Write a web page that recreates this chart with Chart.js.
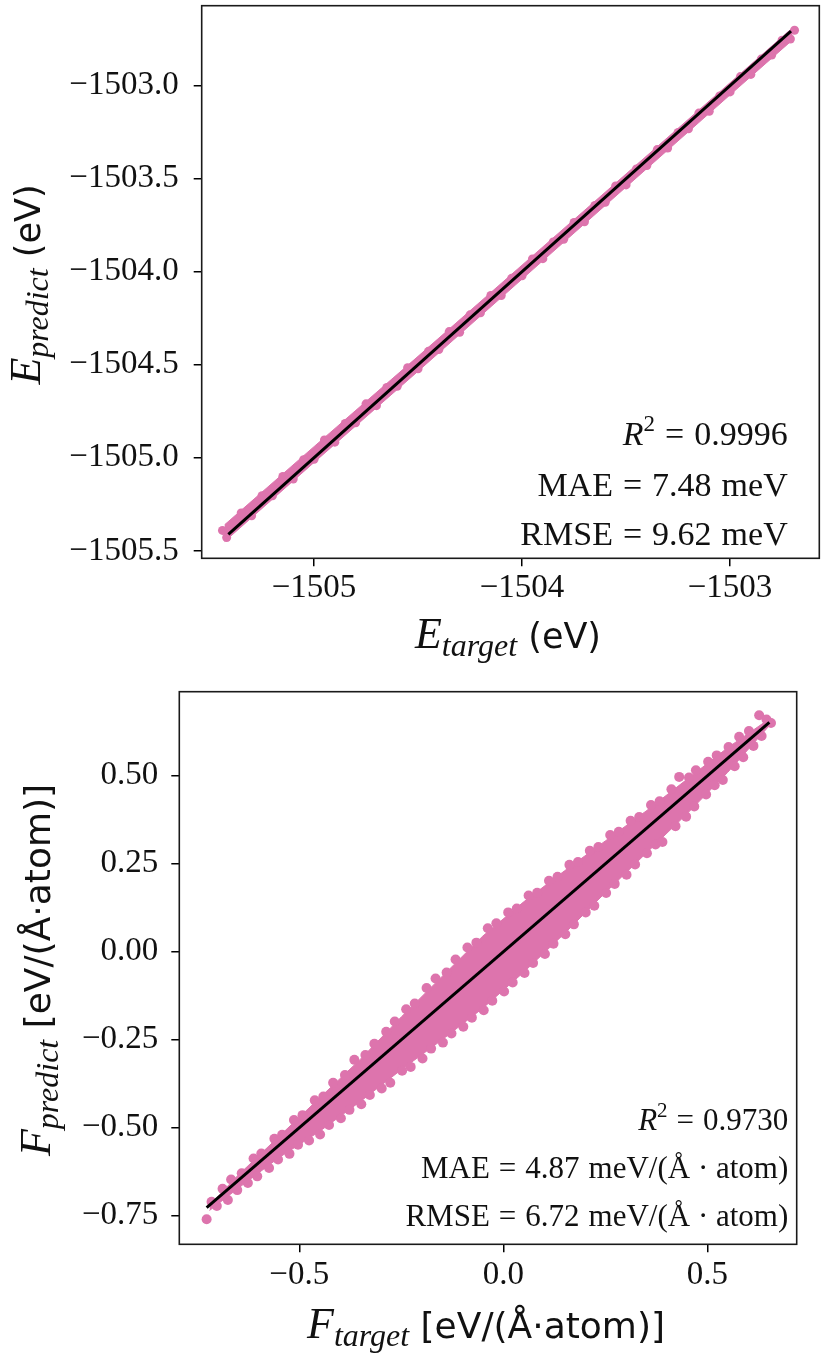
<!DOCTYPE html>
<html>
<head>
<meta charset="utf-8">
<script src="https://cdn.jsdelivr.net/npm/chart.js@4.4.0/dist/chart.umd.min.js"></script>
<style>
  html, body { margin: 0; padding: 0; background: #fff; }
  #wrap { position: relative; width: 826px; height: 1357px; background: #fff; }
  canvas { position: absolute; left: 0; display: block; }
</style>
</head>
<body>
<div id="wrap">
  <canvas id="energy" width="826" height="680" style="top:0"></canvas>
  <canvas id="force" width="826" height="677" style="top:680px"></canvas>
</div>
<script>
// ---------------- Energy panel data ----------------
const energyTicksX = [-1505, -1504, -1503];
const energyTickLabelsX = ['\u22121505', '\u22121504', '\u22121503'];
const energyTicksY = [-1505.5, -1505.0, -1504.5, -1504.0, -1503.5, -1503.0];
const energyTickLabelsY = ['\u22121505.5', '\u22121505.0', '\u22121504.5', '\u22121504.0', '\u22121503.5', '\u22121503.0'];
const energyRange = [-1505.54, -1502.571];

const energyTarget = [
  -1505.44, -1505.35, -1505.25, -1505.15, -1505.05, -1504.95, -1504.85, -1504.75, -1504.65, -1504.55,
  -1504.45, -1504.35, -1504.25, -1504.15, -1504.05, -1503.95, -1503.85, -1503.75, -1503.65, -1503.55,
  -1503.45, -1503.35, -1503.25, -1503.15, -1503.05, -1502.95, -1502.85, -1502.75, -1502.69,
  -1505.42, -1505.30, -1505.20, -1505.10, -1505.00, -1504.90, -1504.80, -1504.70, -1504.60, -1504.50,
  -1504.40, -1504.30, -1504.20, -1504.10, -1504.00, -1503.90, -1503.80, -1503.70, -1503.60, -1503.50,
  -1503.40, -1503.30, -1503.20, -1503.10, -1503.00, -1502.90, -1502.80, -1502.71
];
const energyPredict = [
  -1505.390, -1505.296, -1505.204, -1505.100, -1505.010, -1504.904, -1504.816, -1504.710, -1504.622, -1504.516,
  -1504.428, -1504.322, -1504.232, -1504.128, -1504.036, -1503.932, -1503.840, -1503.736, -1503.644, -1503.540,
  -1503.448, -1503.344, -1503.252, -1503.148, -1503.056, -1502.952, -1502.858, -1502.756, -1502.703,
  -1505.428, -1505.312, -1505.204, -1505.114, -1505.008, -1504.916, -1504.812, -1504.720, -1504.616, -1504.522,
  -1504.418, -1504.326, -1504.221, -1504.128, -1504.022, -1503.930, -1503.826, -1503.732, -1503.627, -1503.534,
  -1503.430, -1503.336, -1503.232, -1503.138, -1503.034, -1502.940, -1502.836, -1502.750
];
// dense core of the point cloud (upper / lower edge of the filled pink band)
const energyBandX = [-1505.43, -1505.0, -1504.5, -1504.0, -1503.5, -1503.0, -1502.70];
const energyBandUpper = [-1505.360, -1504.940, -1504.455, -1503.965, -1503.475, -1502.985, -1502.690];
const energyBandLower = [-1505.450, -1505.025, -1504.535, -1504.040, -1503.545, -1503.050, -1502.755];
const energyFitLine = [-1505.412, -1502.707];
const energyStats = ['0.9996', '7.48', '9.62'];

// ---------------- Force panel data ----------------
const forceTicksX = [-0.5, 0, 0.5];
const forceTickLabelsX = ['\u22120.5', '0.0', '0.5'];
const forceTicksY = [-0.75, -0.5, -0.25, 0, 0.25, 0.5];
const forceTickLabelsY = ['\u22120.75', '\u22120.50', '\u22120.25', '0.00', '0.25', '0.50'];
const forceRangeX = [-0.794, 0.719];
const forceRangeY = [-0.831, 0.739];

const forceTarget = [
  -0.715, -0.688, -0.667, -0.641, -0.612, -0.593, -0.561, -0.542, -0.513, -0.492,
  -0.462, -0.441, -0.417, -0.388, -0.365, -0.338, -0.316, -0.287, -0.266, -0.238,
  -0.217, -0.188, -0.166, -0.139, -0.117, -0.088, -0.066, -0.038, -0.017, 0.012,
  0.033, 0.062, 0.083, 0.112, 0.133, 0.162, 0.183, 0.212, 0.233, 0.262,
  0.283, 0.312, 0.333, 0.362, 0.383, 0.412, 0.431, 0.455, 0.472, 0.502,
  0.523, 0.552, 0.578, 0.602, 0.627, 0.645,
  -0.727, -0.702, -0.675, -0.652, -0.626, -0.603, -0.574, -0.552, -0.524, -0.503,
  -0.476, -0.449, -0.427, -0.398, -0.377, -0.348, -0.327, -0.298, -0.277, -0.248,
  -0.227, -0.198, -0.177, -0.148, -0.127, -0.098, -0.077, -0.048, -0.027, 0.002,
  0.023, 0.052, 0.073, 0.102, 0.123, 0.152, 0.173, 0.202, 0.223, 0.252,
  0.273, 0.302, 0.323, 0.352, 0.373, 0.390, 0.422, 0.448, 0.468, 0.497,
  0.518, 0.538, 0.567, 0.588, 0.613, 0.633, 0.656
];
const forcePredict = [
  -0.710, -0.673, -0.647, -0.629, -0.587, -0.573, -0.531, -0.520, -0.478, -0.464,
  -0.422, -0.411, -0.372, -0.350, -0.307, -0.293, -0.261, -0.227, -0.198, -0.163,
  -0.147, -0.103, -0.076, -0.059, -0.022, 0.012, 0.026, 0.067, 0.081, 0.112,
  0.123, 0.160, 0.168, 0.202, 0.213, 0.247, 0.255, 0.287, 0.298, 0.332,
  0.341, 0.372, 0.383, 0.417, 0.428, 0.462, 0.497, 0.495, 0.516, 0.540,
  0.558, 0.582, 0.611, 0.627, 0.672, 0.660,
  -0.760, -0.722, -0.705, -0.677, -0.657, -0.638, -0.614, -0.590, -0.574, -0.548,
  -0.536, -0.519, -0.492, -0.473, -0.449, -0.433, -0.407, -0.388, -0.372, -0.338,
  -0.327, -0.303, -0.275, -0.258, -0.232, -0.213, -0.187, -0.166, -0.139, -0.113,
  -0.087, -0.060, -0.032, -0.006, 0.023, 0.050, 0.078, 0.112, 0.131, 0.167,
  0.193, 0.219, 0.248, 0.280, 0.305, 0.312, 0.357, 0.384, 0.413, 0.447,
  0.473, 0.488, 0.527, 0.553, 0.585, 0.613, 0.650
];
const forceBandX = [-0.72, -0.65, -0.55, -0.45, -0.35, -0.25, -0.15, -0.05, 0.05, 0.15, 0.25, 0.35, 0.45, 0.55, 0.65];
const forceBandUpper = [-0.720, -0.635, -0.525, -0.415, -0.305, -0.185, -0.070, 0.045, 0.142, 0.230, 0.315, 0.400, 0.490, 0.580, 0.660];
const forceBandLower = [-0.735, -0.672, -0.585, -0.510, -0.425, -0.335, -0.250, -0.160, -0.058, 0.052, 0.168, 0.280, 0.392, 0.510, 0.640];
const forceFitLine = [-0.727, 0.652];
const forceStats = ['0.9730', '4.87', '6.72'];

// ---------------- styling ----------------
const PINK = '#dd74ad';
const SERIF = '"Liberation Serif", "DejaVu Serif", serif';
const SANS = '"DejaVu Sans", sans-serif';
const MI = s => `italic ${s}px ${SERIF}`;
const RM = s => `${s}px ${SERIF}`;
const SS = s => `${s}px ${SANS}`;

// parts: {t, font, dy, l (gap before, px), r (gap after, px)}
function rich(ctx, parts, x, y, align) {
  let w = 0;
  parts.forEach(p => { ctx.font = p.font; p.w = ctx.measureText(p.t).width; w += p.w + (p.l || 0) + (p.r || 0); });
  let cx = align === 'right' ? x - w : (align === 'center' ? x - w / 2 : x);
  ctx.textAlign = 'left';
  ctx.textBaseline = 'alphabetic';
  parts.forEach(p => {
    cx += (p.l || 0);
    ctx.font = p.font; ctx.fillText(p.t, cx, y + (p.dy || 0));
    cx += p.w + (p.r || 0);
  });
}
function richRotated(ctx, parts, x, y) {
  ctx.save();
  ctx.translate(x, y);
  ctx.rotate(-Math.PI / 2);
  rich(ctx, parts, 0, 0, 'center');
  ctx.restore();
}
function statLine(name, value, unit, s) {
  const g = Math.round(s * 0.3);
  return [
    { t: name, font: RM(s) },
    { t: '=', font: RM(s), l: g, r: g },
    { t: value, font: RM(s) },
    { t: unit, font: RM(s), l: Math.round(s * 0.3) }
  ];
}
function pts(xs, ys) { return xs.map((v, i) => ({ x: v, y: ys[i] })); }

function makeChart(id, o) {
  const canvas = document.getElementById(id);
  const W = canvas.width, H = canvas.height;
  const a = o.area;
  const tickFont = { family: SERIF, size: o.tickSize };
  const grid = { display: true, drawOnChartArea: false, drawTicks: true, tickLength: 8, color: '#000', lineWidth: 1.5 };
  const decor = {
    id: 'decor' + id,
    afterDraw(chart) {
      const ctx = chart.ctx, c = chart.chartArea;
      ctx.save();
      ctx.strokeStyle = '#1a1a1a';
      ctx.lineWidth = 1.6;
      ctx.strokeRect(c.left, c.top, c.right - c.left, c.bottom - c.top);
      ctx.fillStyle = '#111';
      o.texts(ctx);
      ctx.restore();
    }
  };
  return new Chart(canvas, {
    type: 'scatter',
    data: {
      datasets: [
        { type: 'line', data: pts(o.fit, o.fit), borderColor: '#000', borderWidth: 3, pointRadius: 0, showLine: true, fill: false, order: 0 },
        { type: 'scatter', data: pts(o.target, o.predict), backgroundColor: PINK, borderWidth: 0, pointRadius: o.radius, order: 1 },
        { type: 'line', data: pts(o.bandX, o.upper), borderColor: PINK, borderWidth: 1, backgroundColor: PINK, pointRadius: 0, showLine: true, fill: '+1', order: 2 },
        { type: 'line', data: pts(o.bandX, o.lower), borderColor: PINK, borderWidth: 1, pointRadius: 0, showLine: true, fill: false, order: 3 }
      ]
    },
    options: {
      responsive: false,
      animation: false,
      events: [],
      layout: { padding: { top: a.top, right: W - a.right, bottom: 0, left: 0 } },
      plugins: { legend: { display: false }, tooltip: { enabled: false } },
      scales: {
        x: {
          type: 'linear', min: o.xRange[0], max: o.xRange[1],
          afterBuildTicks: s => { s.ticks = o.xTicks.map(v => ({ value: v })); },
          afterFit: s => { s.height = H - a.bottom; s.paddingLeft = 0; s.paddingRight = 0; },
          ticks: { callback: v => o.xLabels[o.xTicks.indexOf(v)], font: tickFont, color: '#111', padding: o.padX, maxRotation: 0, autoSkip: false },
          grid: grid, border: { display: false }
        },
        y: {
          type: 'linear', min: o.yRange[0], max: o.yRange[1],
          afterBuildTicks: s => { s.ticks = o.yTicks.map(v => ({ value: v })); },
          afterFit: s => { s.width = a.left; s.paddingTop = 0; s.paddingBottom = 0; },
          ticks: { callback: v => o.yLabels[o.yTicks.indexOf(v)], font: tickFont, color: '#111', padding: o.padY, autoSkip: false },
          grid: grid, border: { display: false }
        }
      }
    },
    plugins: [decor]
  });
}

makeChart('energy', {
  area: { left: 201.7, top: 5.7, right: 819.3, bottom: 558.3 },
  xRange: energyRange, yRange: energyRange,
  xTicks: energyTicksX, xLabels: energyTickLabelsX,
  yTicks: energyTicksY, yLabels: energyTickLabelsY,
  target: energyTarget, predict: energyPredict,
  bandX: energyBandX, upper: energyBandUpper, lower: energyBandLower,
  fit: energyFitLine, radius: 4.5, tickSize: 33, padX: 2, padY: 15,
  texts(ctx) {
    rich(ctx, [{ t: 'E', font: MI(44) }, { t: 'target', font: MI(32), dy: 8 }, { t: ' (eV)', font: SS(35) }], 508, 648, 'center');
    richRotated(ctx, [{ t: 'E', font: MI(44) }, { t: 'predict', font: MI(32), dy: 8 }, { t: ' (eV)', font: SS(35) }], 40, 284.5);
    rich(ctx, [{ t: 'R', font: MI(34) }, { t: '2', font: RM(23), dy: -14 }, { t: '=', font: RM(34), l: 10, r: 10 }, { t: energyStats[0], font: RM(34) }], 787.7, 445, 'right');
    rich(ctx, statLine('MAE', energyStats[1], 'meV', 34), 787.7, 496, 'right');
    rich(ctx, statLine('RMSE', energyStats[2], 'meV', 34), 787.7, 545, 'right');
  }
});

makeChart('force', {
  area: { left: 179.3, top: 11.7, right: 796.7, bottom: 564.3 },
  xRange: forceRangeX, yRange: forceRangeY,
  xTicks: forceTicksX, xLabels: forceTickLabelsX,
  yTicks: forceTicksY, yLabels: forceTickLabelsY,
  target: forceTarget, predict: forcePredict,
  bandX: forceBandX, upper: forceBandUpper, lower: forceBandLower,
  fit: forceFitLine, radius: 5, tickSize: 33, padX: 3, padY: 13,
  texts(ctx) {
    rich(ctx, [{ t: 'F', font: MI(44) }, { t: 'target', font: MI(32), dy: 8 }, { t: ' [eV/(\u00c5\u00b7atom)]', font: SS(36) }], 486, 658, 'center');
    richRotated(ctx, [{ t: 'F', font: MI(44) }, { t: 'predict', font: MI(32), dy: 8 }, { t: ' [eV/(\u00c5\u00b7atom)]', font: SS(36) }], 50, 290);
    rich(ctx, [{ t: 'R', font: MI(31) }, { t: '2', font: RM(21), dy: -13 }, { t: '=', font: RM(31), l: 9, r: 9 }, { t: forceStats[0], font: RM(31) }], 788.3, 450, 'right');
    rich(ctx, statLine('MAE', forceStats[1], 'meV/(\u00c5 \u00b7 atom)', 31), 788.3, 498, 'right');
    rich(ctx, statLine('RMSE', forceStats[2], 'meV/(\u00c5 \u00b7 atom)', 31), 788.3, 546, 'right');
  }
});
</script>
</body>
</html>
